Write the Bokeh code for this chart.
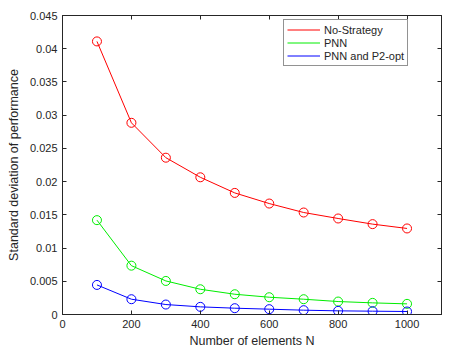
from bokeh.plotting import figure
from bokeh.models import (FixedTicker, LinearAxis, Range1d, Legend, LegendItem,
                          ColumnDataSource)
from bokeh.embed import file_html
from bokeh.resources import INLINE

n_values = [100, 200, 300, 400, 500, 600, 700, 800, 900, 1000]
no_strategy = [0.0411, 0.02885, 0.0236, 0.02065, 0.0183, 0.0167, 0.01535, 0.01445, 0.0136, 0.01295]
pnn = [0.0142, 0.00735, 0.00505, 0.0038, 0.00305, 0.0026, 0.0023, 0.00195, 0.00175, 0.0016]
pnn_p2opt = [0.00445, 0.0023, 0.0015, 0.00115, 0.00095, 0.0008, 0.00065, 0.00055, 0.0005, 0.00045]
series_names = ["No-Strategy", "PNN", "PNN and P2-opt"]
x_ticks = [0, 200, 400, 600, 800, 1000]
y_ticks = [0, 0.005, 0.01, 0.015, 0.02, 0.025, 0.03, 0.035, 0.04, 0.045]
y_tick_labels = ["0", "0.005", "0.01", "0.015", "0.02", "0.025", "0.03", "0.035", "0.04", "0.045"]

FONT = "Liberation Sans"
AX = "#262626"

p = figure(width=449, height=350, output_backend="svg", toolbar_location=None,
           x_range=Range1d(0, 1100), y_range=Range1d(0, 0.045),
           min_border_left=62, min_border_right=8, min_border_top=15, min_border_bottom=35)
p.xgrid.visible = False
p.ygrid.visible = False
p.outline_line_color = AX
p.outline_line_width = 1

colors = ["#ff0000", "#00ee00", "#0000ff"]
data = [no_strategy, pnn, pnn_p2opt]
items = []
for name, ys, c in zip(series_names, data, colors):
    src = ColumnDataSource(dict(x=n_values, y=ys))
    ln = p.line("x", "y", source=src, line_color=c, line_width=1)
    p.scatter("x", "y", source=src, marker="circle", size=9, fill_color=None, line_color=c, line_width=1)
    items.append(LegendItem(label=name, renderers=[ln]))

def style_axis(ax):
    ax.major_tick_in = 4
    ax.major_tick_out = 0
    ax.minor_tick_line_color = None
    ax.axis_line_color = AX
    ax.major_tick_line_color = AX
    ax.major_label_text_font = FONT
    ax.major_label_text_font_size = "11px"
    ax.major_label_text_color = AX
    ax.axis_label_text_font = FONT
    ax.axis_label_text_font_size = "12.5px"
    ax.axis_label_text_font_style = "normal"
    ax.axis_label_text_color = AX

p.xaxis.ticker = FixedTicker(ticks=x_ticks)
p.yaxis.ticker = FixedTicker(ticks=y_ticks)
p.yaxis.major_label_overrides = {t: l for t, l in zip(y_ticks, y_tick_labels)}
style_axis(p.xaxis[0])
style_axis(p.yaxis[0])
p.xaxis.axis_label = "Number of elements N"
p.yaxis.axis_label = "Standard deviation of performance"
p.xaxis.axis_label_standoff = 3
p.yaxis.axis_label_standoff = 6
p.xaxis.major_label_standoff = 5
p.yaxis.major_label_standoff = 5

top = LinearAxis(ticker=FixedTicker(ticks=x_ticks))
style_axis(top)
top.major_label_overrides = {t: "" for t in x_ticks}
top.major_label_standoff = 0
right = LinearAxis(ticker=FixedTicker(ticks=y_ticks))
style_axis(right)
right.major_label_overrides = {t: "" for t in y_ticks}
right.major_label_standoff = 0
p.add_layout(top, "above")
p.add_layout(right, "right")

legend = Legend(items=items, location=(221, 248))
legend.label_text_font = FONT
legend.label_text_font_size = "11px"
legend.label_text_color = AX
legend.label_height = 13
legend.glyph_height = 13
legend.glyph_width = 33
legend.label_standoff = 4
legend.spacing = 0
legend.padding = 3
legend.margin = 0
legend.border_line_color = AX
legend.border_line_width = 1
legend.background_fill_alpha = 1
p.add_layout(legend, "center")

open("out.html", "w").write(file_html(p, INLINE))
